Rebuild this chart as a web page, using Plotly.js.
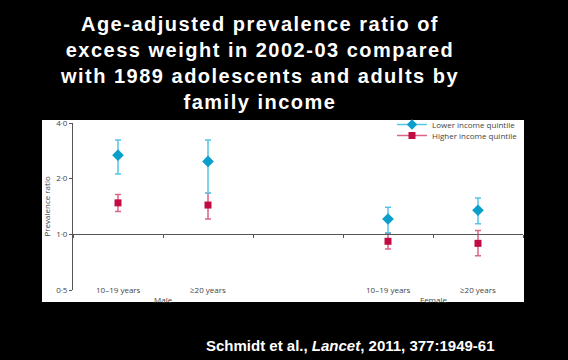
<!DOCTYPE html>
<html>
<head>
<meta charset="utf-8">
<script src="https://cdn.plot.ly/plotly-3.0.1.min.js"></script>
<style>
  html, body { margin: 0; padding: 0; background: #000; }
  #chart { width: 568px; height: 360px; }
  .gtitle { letter-spacing: 1.5px; }
</style>
</head>
<body>
<div id="chart"></div>
<script>
// ---- data ----
const groups = ['Male', 'Male', 'Female', 'Female'];
const ages = ['10–19 years', '≥20 years', '10–19 years', '≥20 years'];
const categories = ['Male 10–19 years', 'Male ≥20 years', 'Female 10–19 years', 'Female ≥20 years'];
const axisCategories = ['Male 10–19 years', 'Male ≥20 years', ' ', 'Female 10–19 years', 'Female ≥20 years'];
const seriesNames = ['Lower income quintile', 'Higher income quintile'];
const lowerRatio = [2.68, 2.48, 1.21, 1.35];
const lowerHigh  = [3.24, 3.24, 1.40, 1.57];
const lowerLow   = [2.12, 1.67, 1.02, 1.14];
const higherRatio = [1.48, 1.44, 0.917, 0.894];
const higherHigh  = [1.64, 1.67, 1.01, 1.05];
const higherLow   = [1.33, 1.21, 0.834, 0.765];
const yTickVals = [0.5, 1, 2, 4];
const yTickText = ['0·5', '1·0', '2·0', '4·0'];

// ---- styling ----
const blue = '#0a9ecb', blueErr = '#55c5e6';
const red = '#c20a43', redErr = '#da6585';
const axisGrey = '#555';
const labelFont = {family: 'Open Sans, sans-serif', size: 8, color: '#444'};

function errSpec(val, hi, lo, color) {
  return {
    type: 'data', symmetric: false,
    array: hi.map((h, i) => h - val[i]),
    arrayminus: lo.map((l, i) => val[i] - l),
    color: color, thickness: 1.5, width: 3
  };
}

const traces = [
  {
    x: categories, y: higherRatio, type: 'scatter', mode: 'markers', showlegend: false,
    marker: {symbol: 'square', size: 7, color: red},
    error_y: errSpec(higherRatio, higherHigh, higherLow, redErr)
  },
  {
    x: categories, y: lowerRatio, type: 'scatter', mode: 'markers', showlegend: false,
    marker: {symbol: 'diamond', size: 9, color: blue},
    error_y: errSpec(lowerRatio, lowerHigh, lowerLow, blueErr)
  },
  {
    x: [null], y: [null], type: 'scatter', mode: 'lines+markers', name: seriesNames[0],
    legend: 'legend',
    line: {color: blueErr, width: 1.5}, marker: {symbol: 'diamond', size: 8, color: blue}
  },
  {
    x: [null], y: [null], type: 'scatter', mode: 'lines+markers', name: seriesNames[1],
    legend: 'legend2',
    line: {color: redErr, width: 1.5}, marker: {symbol: 'square', size: 7, color: red}
  }
];

// plot area: x 73..523, y 123..290 (px)
const L = 73, R = 523, T = 123, B = 290;
const W = R - L, H = B - T;
const px = v => (v - L) / W;
const py = v => (B - v) / H;

const annotations = [];
categories.forEach((c, i) => {
  annotations.push({
    x: c, xref: 'x', y: py(289), yref: 'paper', text: ages[i], showarrow: false,
    xanchor: 'center', yanchor: 'middle', font: labelFont
  });
});
[...new Set(groups)].forEach(g => {
  const idx = categories.map((c, i) => groups[i] === g ? axisCategories.indexOf(c) : null).filter(v => v !== null);
  const mid = idx.reduce((a, b) => a + b, 0) / idx.length;
  annotations.push({
    x: mid, xref: 'x', y: py(299), yref: 'paper', text: g, showarrow: false,
    xanchor: 'center', yanchor: 'middle', font: labelFont
  });
});
annotations.push({
  x: px(46), xref: 'paper', y: 0.5, yref: 'paper', text: 'Prevalence ratio', textangle: -90,
  showarrow: false, xanchor: 'center', yanchor: 'middle', font: labelFont
});
annotations.push({
  x: px(497), xref: 'paper', y: py(345), yref: 'paper',
  text: 'Schmidt et al., <i>Lancet</i>, 2011, 377:1949-61', showarrow: false,
  xanchor: 'right', yanchor: 'middle',
  font: {family: 'Liberation Sans, Arial, sans-serif', size: 15, color: '#fff', weight: 'bold'}
});

const legendBase = {
  x: px(392), xanchor: 'left', yanchor: 'top',
  bgcolor: 'rgba(0,0,0,0)', font: labelFont, tracegroupgap: 0, itemwidth: 30
};

const layout = {
  width: 568, height: 360,
  paper_bgcolor: '#000', plot_bgcolor: 'rgba(0,0,0,0)',
  margin: {l: L, r: 568 - R, t: T, b: 360 - B, pad: 0},
  title: {
    text: 'Age-adjusted prevalence ratio of<br>excess weight in 2002-03 compared<br>with 1989 adolescents and adults by<br>family income',
    font: {family: 'Liberation Sans, Arial, sans-serif', size: 20, color: '#fff', weight: 'bold'},
    x: 260 / 568, xanchor: 'center', xref: 'container',
    y: 1 - 30.5 / 360, yanchor: 'top', yref: 'container'
  },
  xaxis: {
    type: 'category', categoryorder: 'array', categoryarray: axisCategories,
    range: [-0.5, axisCategories.length - 0.5],
    anchor: 'free', position: Math.log(1 / 0.5) / Math.log(4 / 0.5),
    showline: true, linecolor: axisGrey, linewidth: 1,
    ticks: 'outside', tickson: 'boundaries', ticklen: 3, tickcolor: axisGrey,
    showticklabels: false, showgrid: false, zeroline: false, fixedrange: true
  },
  yaxis: {
    type: 'log', range: [Math.log10(0.5), Math.log10(4)],
    tickvals: yTickVals, ticktext: yTickText,
    showline: true, linecolor: axisGrey, linewidth: 1,
    ticks: 'outside', ticklen: 3, tickcolor: axisGrey,
    tickfont: labelFont, showgrid: false, zeroline: false
  },
  legend: Object.assign({}, legendBase, {y: py(110)}),
  legend2: Object.assign({}, legendBase, {y: py(121)}),
  shapes: [{
    type: 'rect', xref: 'paper', yref: 'paper', layer: 'below',
    x0: px(42), x1: px(524), y0: py(302), y1: py(120),
    fillcolor: '#fff', line: {width: 0}
  }],
  annotations: annotations
};

Plotly.newPlot('chart', traces, layout, {staticPlot: true, displayModeBar: false});
</script>
</body>
</html>
